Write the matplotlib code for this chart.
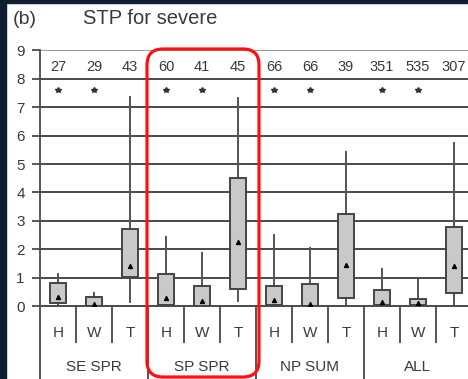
import matplotlib
matplotlib.use("Agg")
import matplotlib.pyplot as plt
from matplotlib.patches import FancyBboxPatch, Rectangle
from matplotlib.transforms import IdentityTransform, blended_transform_factory
import numpy as np

plt.rcParams['font.family'] = ['Liberation Sans', 'DejaVu Sans']

groups = ["SE SPR", "SP SPR", "NP SUM", "ALL"]
members = ["H", "W", "T"]
counts = [27, 29, 43, 60, 41, 45, 66, 66, 39, 351, 535, 307]
starred = [True, True, False, True, True, False, True, True, False, True, True, False]

whislo = [0.00, 0.00, 0.10, 0.00, 0.00, 0.15, 0.00, 0.00, 0.00, 0.00, 0.00, 0.00]
q1 = [0.10, 0.00, 1.01, 0.03, 0.00, 0.59, 0.02, 0.00, 0.27, 0.02, 0.03, 0.47]
q3 = [0.82, 0.31, 2.71, 1.13, 0.70, 4.52, 0.70, 0.79, 3.23, 0.56, 0.24, 2.79]
whishi = [1.16, 0.49, 7.39, 2.46, 1.89, 7.36, 2.53, 2.09, 5.47, 1.33, 0.95, 5.79]
means = [0.33, 0.08, 1.42, 0.29, 0.19, 2.26, 0.21, 0.07, 1.44, 0.13, 0.09, 1.42]

W, H = 468, 379
fig = plt.figure(figsize=(W / 100, H / 100), dpi=100)
fig.patch.set_facecolor("white")

# axes spans 12 slots of 36 px starting at x=40; right end runs past the canvas
ax = fig.add_axes([40 / W, 1 - 306 / H, 432 / W, (306 - 50.4) / H])
ax.set_xlim(-0.5, 11.5)
ax.set_ylim(0, 9)

text_c = "#3a3a3a"
line_c = "#4a4a4a"

# horizontal grid
for v in range(1, 9):
    ax.axhline(v, color=line_c, lw=1.4, zorder=1)
ax.axhline(9, color="#9a9a9a", lw=1.4, zorder=1)

for s in ["top", "right"]:
    ax.spines[s].set_visible(False)
ax.spines["left"].set_color(line_c)
ax.spines["left"].set_linewidth(1.3)
ax.spines["bottom"].set_color(line_c)
ax.spines["bottom"].set_linewidth(1.4)

ax.set_yticks(range(0, 10))
ax.tick_params(axis="y", length=6, width=1.3, color=line_c, labelcolor=text_c,
               labelsize=11, pad=5)
ax.set_xticks([])

x = np.arange(len(counts))
bw = 0.42

# whiskers
ax.vlines(x, whislo, q1, color="#555555", lw=1.4, zorder=2)
ax.vlines(x, q3, whishi, color="#555555", lw=1.4, zorder=2)
# boxes
ax.bar(x, np.array(q3) - np.array(q1), bottom=q1, width=bw, color="#c9c9c9",
       edgecolor="#444444", linewidth=1.4, zorder=3)
# means
ax.scatter(x, means, marker="^", s=8, color="black", zorder=4)

# sample sizes and significance stars
for xi, n, st in zip(x, counts, starred):
    ax.text(xi, 8.42, str(n), ha="center", va="center", fontsize=10.5,
            color=text_c, zorder=5)
    if st:
        ax.plot(xi, 7.62, marker="*", ms=4, color="#333333", ls="none", zorder=5)

# category labels and separators below the axis
trans = blended_transform_factory(ax.transData, IdentityTransform())
for i, xi in enumerate(x):
    ax.text(xi, H - 333, members[i % 3], transform=trans, ha="center", va="center",
            fontsize=11, color=text_c)
for gi, g in enumerate(groups):
    ax.text(3 * gi + 1, H - 367, g, transform=trans, ha="center", va="center",
            fontsize=11, color=text_c)
for b in np.arange(-0.5, 12, 1.0):
    major = abs((b + 0.5) % 3) < 1e-9
    y0 = 0 if major else H - 343
    ax.plot([b, b], [H - 306, y0], transform=trans, color="#555555", lw=1.4,
            clip_on=False, solid_capstyle="butt")

# titles
fig.text(13 / W, 1 - 19 / H, "(b)", fontsize=14, color=text_c, va="center")
fig.text(83 / W, 1 - 19 / H, "STP for severe", fontsize=14.5, color=text_c, va="center")

# highlight frame around the SP SPR group
frame = FancyBboxPatch((147, H - 377), 112, 328,
                       boxstyle="round,pad=0,rounding_size=16",
                       transform=IdentityTransform(), fill=False,
                       edgecolor="#ff1010", linewidth=2.3, zorder=10)
fig.patches.append(frame)

# dark surround on left and top
fig.patches.append(Rectangle((0, 0), 6 / W, 1, transform=fig.transFigure,
                             color="#0e1e30", zorder=20))
fig.patches.append(Rectangle((0, 1 - 3 / H), 1, 3 / H, transform=fig.transFigure,
                             color="#0e1e30", zorder=20))

fig.savefig("out.png", dpi=100)
